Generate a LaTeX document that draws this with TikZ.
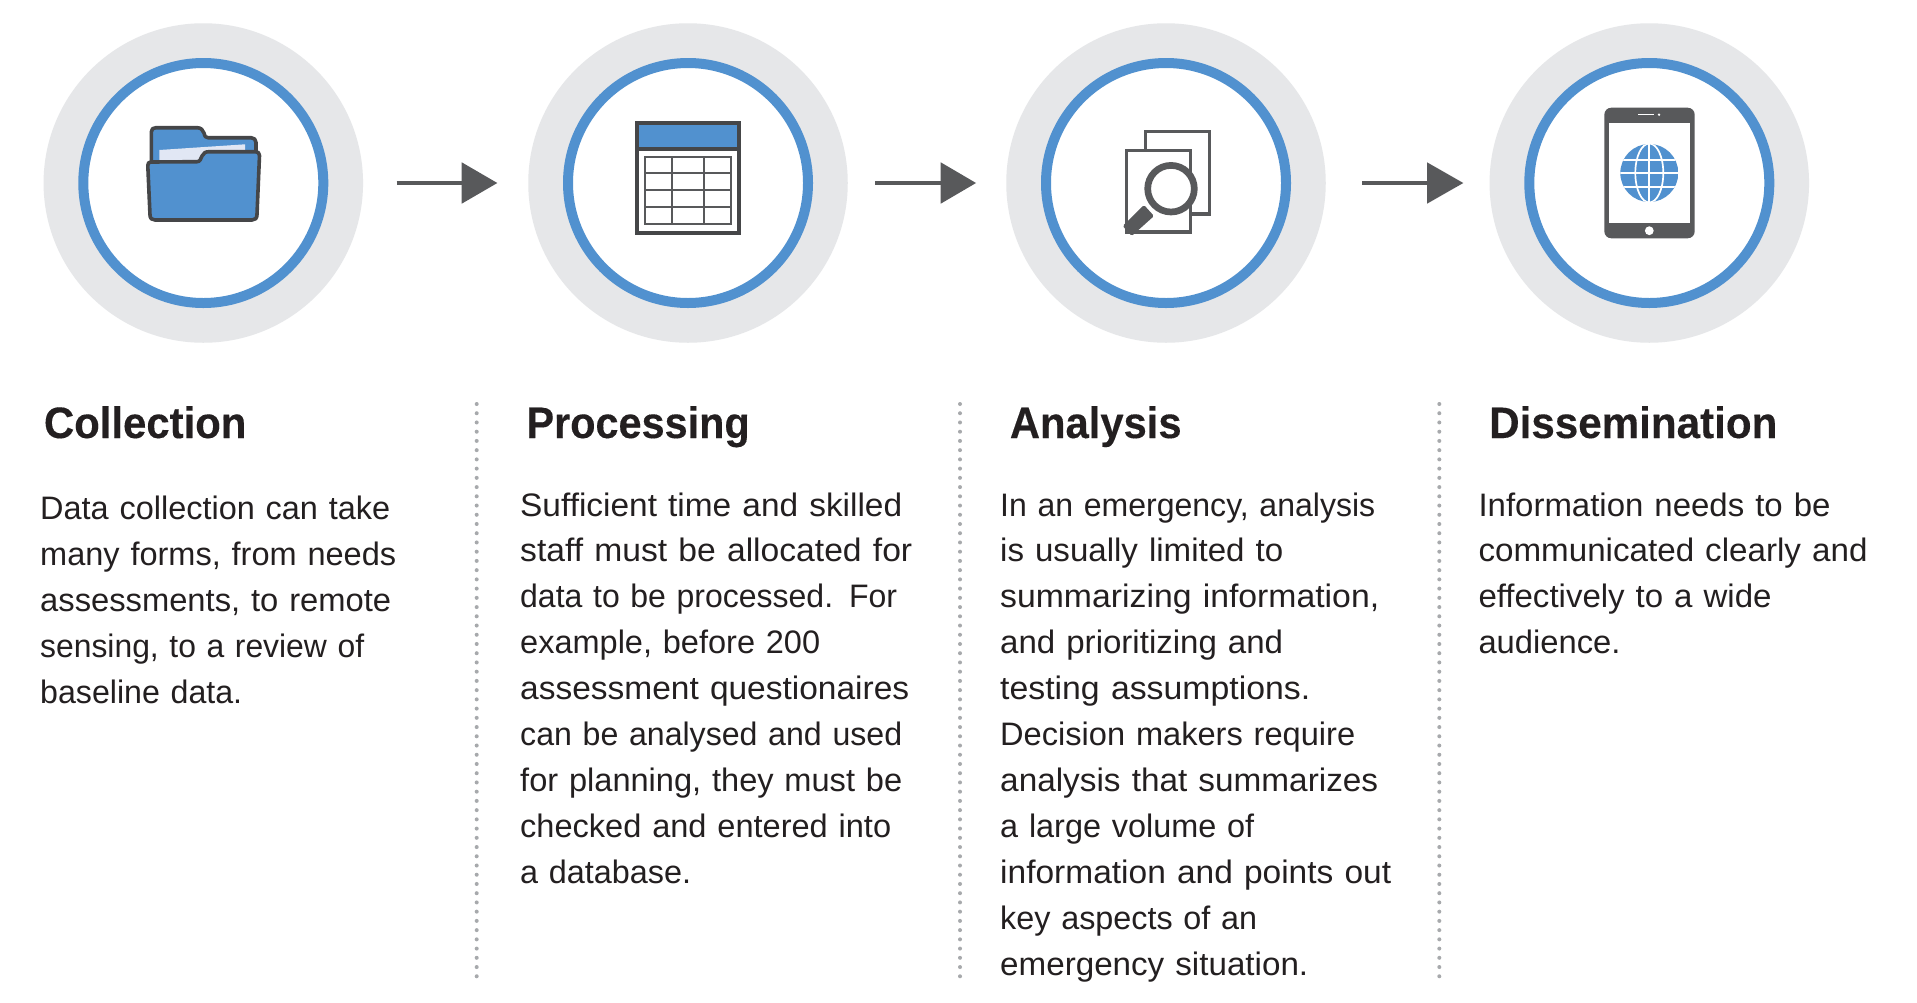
\documentclass[tikz,border=0pt]{standalone}
\usepackage{graphicx}
\usepackage{fontspec}
\setmainfont{Liberation Sans}
\newfontfamily\headfont[FakeStretch=0.945,FakeBold=0.25]{Liberation Sans Bold}
\definecolor{ringblue}{HTML}{5191CF}
\definecolor{halo}{HTML}{E6E7E9}
\definecolor{iconink}{HTML}{58595B}
\definecolor{folderink}{HTML}{454648}
\definecolor{textink}{HTML}{231F20}
\definecolor{paperpale}{HTML}{E1E7F4}
\definecolor{dotgrey}{HTML}{A7A9AC}
\tikzset{
  halodisc/.style={circle,fill=halo,draw=none,minimum size=319.5pt,inner sep=0pt},
  ringdisc/.style={circle,fill=white,draw=ringblue,line width=10pt,minimum size=240pt,inner sep=0pt},
  headtext/.style={anchor=base west,inner sep=0pt,font=\headfont\fontsize{44}{46}\selectfont,text=textink},
  bodytext/.style={anchor=base west,inner sep=0pt,align=left,text width=430pt,font=\fontsize{32.5}{45.95}\selectfont,text=textink},
  flowline/.style={draw=iconink,line width=4.5pt},
  flowhead/.style={fill=iconink,draw=none},
  divider/.style={draw=dotgrey,line width=4pt,line cap=round,dash pattern=on 0pt off 9.23pt},
  foldline/.style={draw=folderink,fill=ringblue,line width=3.6pt,line join=round},
}
\newcommand{\fitl}[2]{\resizebox{\dimexpr#1pt+1pt\relax}{\height}{#2}}
\begin{document}
\begin{tikzpicture}[x=1pt,y=-1pt]
\useasboundingbox (0,0) rectangle (1917,1002);
\fill[white] (0,0) rectangle (1917,1002);
% discs
\foreach \n/\cx in {a/203.3,b/688,c/1166,d/1649.3}{
  \node[halodisc] (halo\n) at (\cx,183) {};
  \node[ringdisc] (ring\n) at (\cx,183) {};
}
% arrows between the rings
\coordinate (a1s) at (396.7,183); \coordinate (a1b) at (461.7,183); \coordinate (a1t) at (497.3,183);
\coordinate (a2s) at (875.3,183); \coordinate (a2b) at (940.7,183); \coordinate (a2t) at (976,183);
\coordinate (a3s) at (1362,183);  \coordinate (a3b) at (1427,183);  \coordinate (a3t) at (1463.3,183);
\foreach \k in {a1,a2,a3}{
  \draw[flowline] (\k s) -- (\k b);
  \fill[flowhead] ([yshift=20.7pt]\k b) -- (\k t) -- ([yshift=-20.7pt]\k b) -- cycle;
}
% folder
\draw[foldline]
  (151.3,168) -- (151.3,132) .. controls (151.3,129) and (153,127.7) .. (156,127.7)
  -- (197,127.7) .. controls (201,127.7) and (203,130) .. (204,133)
  .. controls (205,136.5) and (205.5,137.7) .. (208,137.7)
  -- (251,137.7) .. controls (254,137.7) and (256,139.5) .. (256,142.5) -- (256,168) -- cycle;
\fill[paperpale] (159.3,150) -- (245,144.3) -- (245,172) -- (159.3,172) -- cycle;
\draw[foldline]
  (147.8,165.5) .. controls (147.8,163) and (149,162) .. (151,162)
  -- (197,161.7) .. controls (200.5,161.7) and (200.5,158.5) .. (202,156)
  .. controls (203.5,153) and (205.5,151.7) .. (209,151.7)
  -- (255.5,151.7) .. controls (258,151.7) and (259.5,153) .. (259.5,155.5)
  -- (257,214.5) .. controls (257,218.5) and (255,220) .. (252,220)
  -- (155,220) .. controls (152,220) and (150,218.5) .. (150,215) -- cycle;
% table
\fill[ringblue] (637,123) rectangle (739,148.7);
\draw[folderink,line width=4pt] (637,123) rectangle (739,233);
\draw[folderink,line width=4pt] (637,148.7) -- (739,148.7);
\draw[iconink,line width=2pt] (645,157) rectangle (731.3,224);
\foreach \yy in {172.7,190,207.3}{\draw[iconink,line width=1.9pt] (645,\yy) -- (731.3,\yy);}
\foreach \xx in {672.3,704}{\draw[iconink,line width=1.9pt] (\xx,157) -- (\xx,224);}
% documents and lens
\draw[iconink,line width=3.1pt] (1145.7,150) -- (1145.7,131.7) -- (1209.3,131.7) -- (1209.3,214) -- (1190.5,214);
\draw[iconink,line width=3.1pt] (1126.5,150.7) rectangle (1190.5,232);
\fill[white] (1171,188.7) circle (25);
\draw[iconink,line width=6.7pt] (1171,188.7) circle (23.3);
\fill[iconink,rounded corners=1.5pt] (1144,205) -- (1154,216) -- (1131.7,236) -- (1122.7,226) -- cycle;
% tablet
\fill[iconink,rounded corners=7pt] (1604.3,107.7) rectangle (1694.7,238.3);
\fill[white] (1609,122.7) rectangle (1690.3,223.3);
\draw[white,line width=1.5pt] (1638.3,114.7) -- (1654,114.7);
\fill[white] (1659,114.7) circle (1.3);
\fill[white] (1649.3,230.7) circle (4.4);
% globe
\begin{scope}
  \clip (1649.3,173) circle (29);
  \fill[ringblue] (1620,144) rectangle (1679,202);
  \foreach \yy in {159.7,173.3,187.3}{\draw[white,line width=1.7pt] (1620,\yy) -- (1679,\yy);}
  \draw[white,line width=1.7pt] (1649.3,144) -- (1649.3,202);
  \draw[white,line width=1.7pt] (1649.3,173) ellipse (14 and 29.5);
\end{scope}
% dividers
\coordinate (d1t) at (476.7,404); \coordinate (d1b) at (476.7,977);
\coordinate (d2t) at (960,404); \coordinate (d2b) at (960,977);
\coordinate (d3t) at (1439.3,404); \coordinate (d3b) at (1439.3,977);
\draw[divider] (d1t) -- (d1b);
\draw[divider] (d2t) -- (d2b);
\draw[divider] (d3t) -- (d3b);
% headings
\node[headtext] (hA) at (43.8,438) {\scalebox{1.007}[1]{Collection}};
\node[headtext] (hB) at (526.3,438) {\scalebox{0.996}[1]{Processing}};
\node[headtext] (hC) at (1009.7,438) {\scalebox{1.004}[1]{Analysis}};
\node[headtext] (hD) at (1489,438) {\scalebox{1.014}[1]{Dissemination}};
% body
\node[bodytext] (bA) at (40,519.2) {\fitl{349}{Data collection can take}\\\fitl{355}{many forms, from needs}\\\fitl{350}{assessments, to remote}\\\fitl{323}{sensing, to a review of}\\\fitl{201}{baseline data.}};
\node[bodytext] (bB) at (520,516) {\fitl{381}{Sufficient time and skilled}\\\fitl{391}{staff must be allocated for}\\\fitl{376}{data to be processed. For}\\\fitl{299}{example, before 200}\\\fitl{388}{assessment questionaires}\\\fitl{381}{can be analysed and used}\\\fitl{381}{for planning, they must be}\\\fitl{370}{checked and entered into}\\\fitl{170}{a database.}};
\node[bodytext] (bC) at (1000,516) {\fitl{374}{In an emergency, analysis}\\\fitl{282}{is usually limited to}\\\fitl{378}{summarizing information,}\\\fitl{282}{and prioritizing and}\\\fitl{309}{testing assumptions.}\\\fitl{354}{Decision makers require}\\\fitl{377}{analysis that summarizes}\\\fitl{253}{a large volume of}\\\fitl{390}{information and points out}\\\fitl{256}{key aspects of an}\\\fitl{307}{emergency situation.}};
\node[bodytext] (bD) at (1478.3,516) {\fitl{351}{Information needs to be}\\\fitl{388}{communicated clearly and}\\\fitl{292}{effectively to a wide}\\\fitl{141}{audience.}};
\end{tikzpicture}
\end{document}
